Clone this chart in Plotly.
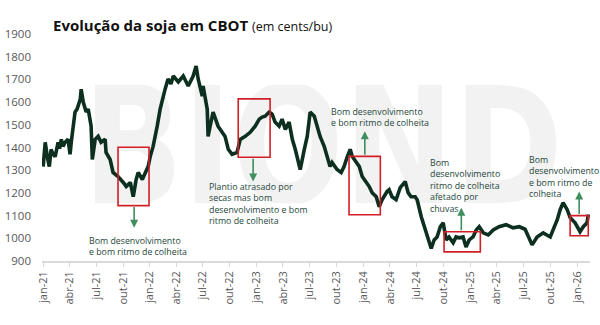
import plotly.graph_objects as go

dates = [
    "2021-01-01","2021-01-08","2021-01-15","2021-01-22","2021-01-28","2021-02-04","2021-02-11","2021-02-21","2021-02-26","2021-03-04",
    "2021-03-10","2021-03-17","2021-03-27","2021-04-03","2021-04-07","2021-04-20","2021-04-27","2021-05-08","2021-05-11",
    "2021-05-18","2021-05-28","2021-06-04","2021-06-14","2021-06-18","2021-06-28","2021-07-08","2021-07-18",
    "2021-08-01","2021-08-04","2021-08-18","2021-08-28","2021-09-14","2021-10-02","2021-10-12","2021-10-26",
    "2021-11-05","2021-11-15","2021-11-22","2021-12-06","2021-12-16","2021-12-26","2022-01-02","2022-01-12",
    "2022-01-26","2022-02-05","2022-02-22","2022-03-04","2022-03-14","2022-03-22","2022-04-08","2022-04-25","2022-05-12",
    "2022-05-29","2022-06-08","2022-06-15","2022-06-29","2022-07-02","2022-07-16","2022-07-19","2022-07-26",
    "2022-08-05","2022-08-22","2022-09-15","2022-09-26","2022-10-09","2022-10-26","2022-11-06","2022-11-23",
    "2022-12-10","2022-12-27","2023-01-10","2023-01-20","2023-01-30","2023-02-13","2023-02-23","2023-03-05",
    "2023-03-19","2023-03-29","2023-04-09","2023-04-22","2023-05-03","2023-05-13","2023-05-26","2023-05-30",
    "2023-06-13","2023-06-23","2023-07-03","2023-07-17","2023-07-27","2023-08-06","2023-08-20","2023-08-30",
    "2023-09-09","2023-09-16","2023-10-03","2023-10-17","2023-10-27","2023-11-07","2023-11-17","2023-11-24",
    "2023-12-07","2023-12-18","2023-12-28","2024-01-11","2024-01-21","2024-01-31","2024-02-14","2024-02-24",
    "2024-03-05","2024-03-22","2024-03-29","2024-04-08","2024-04-22","2024-05-06","2024-05-23","2024-06-02",
    "2024-06-12","2024-06-26","2024-07-03","2024-07-17","2024-07-27","2024-08-06","2024-08-20","2024-08-30",
    "2024-09-09","2024-09-20","2024-09-30","2024-10-10","2024-10-20","2024-11-03","2024-11-13","2024-11-24",
    "2024-12-07","2024-12-17","2024-12-28","2025-01-10","2025-01-21","2025-01-31","2025-02-14","2025-03-03",
    "2025-03-20","2025-04-09","2025-05-03","2025-05-27","2025-06-17","2025-07-07","2025-07-18","2025-07-31",
    "2025-08-17","2025-09-07","2025-10-01","2025-10-11","2025-10-25","2025-11-04","2025-11-14","2025-11-28",
    "2025-12-08","2025-12-25","2026-01-11","2026-01-22","2026-02-04","2026-02-08",
]
prices = [
    1316,1423,1360,1316,1392,1370,1360,1423,1395,1436,
    1405,1423,1436,1370,1423,1556,1569,1613,1657,
    1600,1556,1569,1494,1347,1436,1449,1423,
    1436,1378,1347,1290,1272,1246,1228,1246,
    1183,1259,1290,1259,1290,1316,1360,1405,
    1494,1569,1657,1702,1680,1715,1689,1715,1671,
    1715,1759,1702,1627,1671,1569,1449,1494,
    1556,1494,1449,1392,1370,1378,1436,1449,
    1467,1494,1525,1534,1538,1556,1547,1512,
    1494,1525,1480,1512,1436,1392,1316,1303,
    1392,1449,1556,1538,1494,1449,1405,1360,
    1316,1334,1303,1290,1316,1360,1392,1360,
    1334,1316,1272,1246,1228,1201,1183,1139,
    1170,1206,1214,1183,1170,1223,1250,1201,
    1183,1183,1170,1095,1051,1006,955,993,
    1006,1051,1068,993,1006,980,1006,1002,
    1006,962,993,1006,1037,1051,1024,1015,
    1037,1051,1060,1046,1051,1040,1006,971,
    1006,1024,1006,1037,1082,1126,1157,1126,
    1091,1068,1029,1051,1068,1105,
]

tick_dates = ["2021-01-01","2021-04-01","2021-07-01","2021-10-01","2022-01-01","2022-04-01","2022-07-01",
              "2022-10-01","2023-01-01","2023-04-01","2023-07-01","2023-10-01","2024-01-01","2024-04-01",
              "2024-07-01","2024-10-01","2025-01-01","2025-04-01","2025-07-01","2025-10-01","2026-01-01"]
tick_labels = ["jan-21","abr-21","jul-21","out-21","jan-22","abr-22","jul-22","out-22","jan-23","abr-23",
               "jul-23","out-23","jan-24","abr-24","jul-24","out-24","jan-25","abr-25","jul-25","out-25","jan-26"]
y_ticks = [900,1000,1100,1200,1300,1400,1500,1600,1700,1800,1900]

# highlight boxes: (start, end, low, high)
boxes = [
    ("2021-09-14","2021-12-29",1144,1401),
    ("2022-10-30","2023-02-16",1357,1614),
    ("2023-11-13","2024-02-28",1104,1361),
    ("2024-10-03","2025-02-04",940,1029),
    ("2025-12-08","2026-02-08",1011,1100),
]
# arrows: (date, from, to)
arrows = [
    ("2021-11-08",1144,1046),
    ("2022-12-20",1357,1250),
    ("2024-01-06",1361,1472),
    ("2024-12-01",1029,1135),
    ("2026-01-08",1100,1206),
]
notes = [
    ("2021-05-31",962,"Bom desenvolvimento<br>e bom ritmo de colheita"),
    ("2022-07-16",1152,"Plantio atrasado por<br>secas mas bom<br>desenvolvimento e bom<br>ritmo de colheita"),
    ("2023-09-06",1534,"Bom desenvolvimento<br>e bom ritmo de colheita"),
    ("2024-08-10",1232,"Bom<br>desenvolvimento<br>ritmo de colheita<br>afetado por<br>chuvas"),
    ("2025-07-14",1272,"Bom<br>desenvolvimento<br>e bom ritmo de<br>colheita"),
]

FONT = "Open Sans"

watermark_svg = (
    "data:image/svg+xml;utf8,"
    "<svg xmlns='http://www.w3.org/2000/svg' width='480' height='118' viewBox='0 0 480 118'>"
    "<text x='0' y='118' font-family='DejaVu Sans' font-weight='bold' font-size='162' "
    "textLength='480' lengthAdjust='spacingAndGlyphs' fill='%23f2f2f2'>BIOND</text></svg>"
)

fig = go.Figure()
fig.add_trace(go.Scatter(x=dates, y=prices, mode="lines",
                         line=dict(color="#0c2f20", width=3.6), hoverinfo="skip"))

for x0, x1, y0, y1 in boxes:
    fig.add_shape(type="rect", xref="x", yref="y", x0=x0, x1=x1, y0=y0, y1=y1,
                  line=dict(color="#d21f26", width=1.6), fillcolor="rgba(0,0,0,0)")

for xd, yf, yt in arrows:
    fig.add_annotation(x=xd, y=yt, ax=xd, ay=yf, xref="x", yref="y", axref="x", ayref="y",
                       showarrow=True, arrowhead=2, arrowsize=1, arrowwidth=1.6,
                       arrowcolor="#3e8e5e", text="")

for xd, yc, txt in notes:
    fig.add_annotation(x=xd, y=yc, xref="x", yref="y", text=txt, showarrow=False,
                       xanchor="left", yanchor="middle", align="left",
                       font=dict(family=FONT, size=8.8, color="#25473b"))

fig.add_layout_image(dict(source=watermark_svg, xref="paper", yref="paper",
                          x=(83 - 42) / 548, y=1 - (85 - 34) / 227, sizex=480 / 548, sizey=118 / 227,
                          xanchor="left", yanchor="top", sizing="stretch", layer="below"))

fig.update_layout(
    width=600, height=325,
    margin=dict(l=42, r=10, t=34, b=64),
    paper_bgcolor="white", plot_bgcolor="white",
    showlegend=False,
    title=dict(text="<b>Evolução da soja em CBOT</b> <span style='font-size:12.5px'>(em cents/bu)</span>",
               x=53/600, xref="container", xanchor="left", y=1-20/325, yref="container", yanchor="top",
               font=dict(family=FONT, size=15, color="#111111")),
    xaxis=dict(type="date", range=["2020-12-28", "2026-02-14"], tickmode="array",
               tickvals=tick_dates, ticktext=tick_labels, tickangle=-90, automargin=False,
               showgrid=False, showline=True, linecolor="#d9d9d9", linewidth=1.5,
               ticks="outside", ticklen=4, tickcolor="#d9d9d9",
               tickfont=dict(family=FONT, size=11, color="#595959"), zeroline=False),
    yaxis=dict(range=[900, 1900], tickmode="array", tickvals=y_ticks, showgrid=False,
               zeroline=False, showline=False, ticks="", ticklabelstandoff=10, automargin=False,
               tickfont=dict(family=FONT, size=11.5, color="#595959")),
)

fig.write_html("out.html")
